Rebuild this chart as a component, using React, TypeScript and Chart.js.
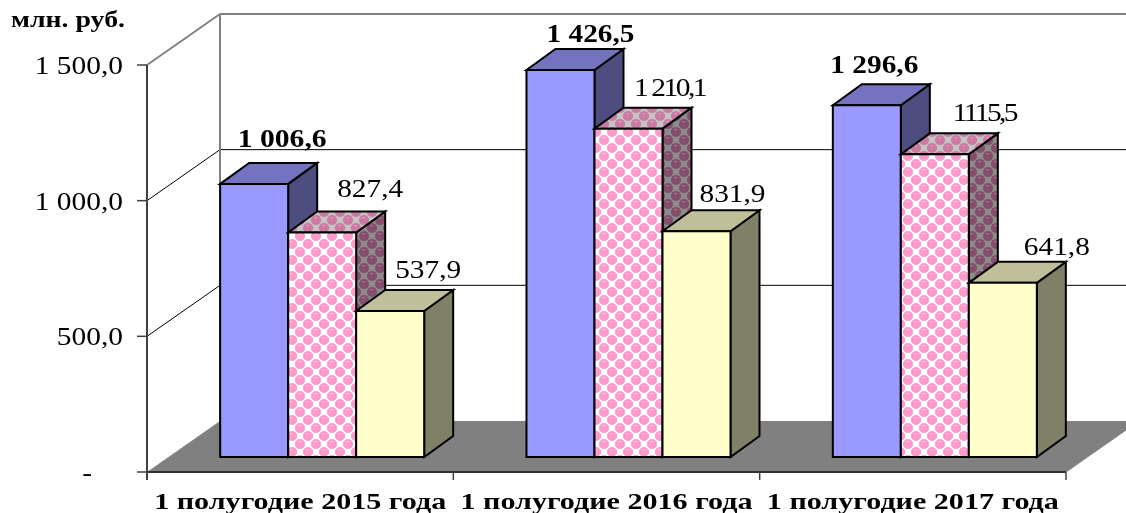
import React, { useEffect, useRef } from "react";
import { Chart, registerables } from "chart.js";

Chart.register(...registerables);

const categories = ["1 полугодие 2015 года", "1 полугодие 2016 года", "1 полугодие 2017 года"];
const seriesA = [1006.6, 1426.5, 1296.6];
const seriesB = [827.4, 1210.1, 1115.5];
const seriesC = [537.9, 831.9, 641.8];
const labelsA = ["1 006,6", "1 426,5", "1 296,6"];
const labelsB = ["827,4", "1 210,1", "1115,5"];
const labelsC = ["537,9", "831,9", "641,8"];
const yTickLabels: Record<number, string> = { 0: "-", 500: "500,0", 1000: "1 000,0", 1500: "1 500,0" };
const unitLabel = "млн. руб.";

const FONT = '"Liberation Serif"';
const WALL = { dx: 73, dy: -51 };
const BAR_SHIFT = { dx: 22, dy: -15 };
const DEPTH = { dx: 29, dy: -21 };
const TILE = 16;

function makePattern(ctx: CanvasRenderingContext2D, gap: string, ball: string, hi: string) {
  const c = document.createElement("canvas");
  c.width = TILE;
  c.height = TILE;
  const g = c.getContext("2d")!;
  g.fillStyle = gap;
  g.fillRect(0, 0, TILE, TILE);
  const q = TILE / 4;
  const points = [[q, q], [3 * q, 3 * q], [-q, 3 * q], [5 * q, q], [3 * q, -q], [q, 5 * q]];
  for (const [x, y] of points) {
    g.fillStyle = ball;
    g.beginPath();
    g.arc(x, y, 5.1, 0, Math.PI * 2);
    g.fill();
  }
  for (const [x, y] of points) {
    g.fillStyle = hi;
    g.fillRect(x - 2, y - 3, 3, 1.3);
  }
  return ctx.createPattern(c, "repeat")!;
}

function stretched(
  ctx: CanvasRenderingContext2D,
  text: string,
  x: number,
  y: number,
  font: string,
  opts: { width?: number; sx?: number; align?: CanvasTextAlign; tight?: boolean }
) {
  ctx.save();
  ctx.font = font;
  ctx.fillStyle = "#000";
  ctx.textBaseline = "middle";
  ctx.textAlign = opts.align ?? "center";
  let sx = opts.sx ?? 1;
  if (opts.width) {
    const natural = ctx.measureText(text).width;
    if (opts.tight) {
      (ctx as any).letterSpacing = `${(opts.width / sx - natural) / text.length}px`;
    } else {
      sx = opts.width / natural;
    }
  }
  ctx.translate(x, y);
  ctx.scale(sx, 1);
  ctx.fillText(text, 0, 0);
  ctx.restore();
}

function line(ctx: CanvasRenderingContext2D, x1: number, y1: number, x2: number, y2: number, color: string, w: number) {
  ctx.strokeStyle = color;
  ctx.lineWidth = w;
  ctx.beginPath();
  ctx.moveTo(x1, y1);
  ctx.lineTo(x2, y2);
  ctx.stroke();
}

function poly(ctx: CanvasRenderingContext2D, pts: number[][], fill: string | CanvasPattern) {
  ctx.fillStyle = fill;
  ctx.strokeStyle = "#000";
  ctx.lineWidth = 2;
  ctx.lineJoin = "miter";
  ctx.beginPath();
  pts.forEach(([x, y], i) => (i ? ctx.lineTo(x, y) : ctx.moveTo(x, y)));
  ctx.closePath();
  ctx.fill();
  ctx.stroke();
}

const scene3d = {
  id: "scene3d",
  beforeDatasetsDraw(chart: any) {
    const { ctx, chartArea: a, scales } = chart;
    const y = scales.y;
    const x = scales.x;
    const left = a.left;
    const right = a.right;
    const bottom = a.bottom;
    ctx.save();
    // floor
    ctx.fillStyle = "#808080";
    ctx.beginPath();
    ctx.moveTo(left, bottom);
    ctx.lineTo(right, bottom);
    ctx.lineTo(right + WALL.dx, bottom + WALL.dy);
    ctx.lineTo(left + WALL.dx, bottom + WALL.dy);
    ctx.closePath();
    ctx.fill();
    // back wall grid
    y.ticks.forEach((t: any) => {
      const py = y.getPixelForValue(t.value);
      const top = t.value === y.max;
      if (t.value !== 0) {
        const col = top ? "#808080" : "#000";
        const w = top ? 2 : 1;
        line(ctx, left, py, left + WALL.dx, py + WALL.dy, col, w);
        line(ctx, left + WALL.dx, py + WALL.dy, right + WALL.dx, py + WALL.dy, col, w);
      }
      line(ctx, left - 10, py, left, py, "#404040", 1.5);
    });
    line(ctx, left + WALL.dx, a.top + WALL.dy, left + WALL.dx, bottom + WALL.dy, "#808080", 2);
    // front axes
    line(ctx, left, a.top, left, bottom + 8, "#404040", 2);
    line(ctx, left, bottom, right, bottom, "#303030", 2);
    const step = (right - left) / categories.length;
    for (let i = 0; i <= categories.length; i++) {
      const px = left + i * step;
      line(ctx, px, bottom, px, bottom + 8, "#404040", 1.5);
    }
    line(ctx, right, bottom, right + WALL.dx, bottom + WALL.dy, "#808080", 1);
    // axis labels
    y.ticks.forEach((t: any) => {
      const py = y.getPixelForValue(t.value);
      stretched(ctx, yTickLabels[t.value] ?? "", t.value === 0 ? 92 : 123, py + 2.5, `24.5px ${FONT}`, { sx: 1.2, align: "right" });
    });
    categories.forEach((c, i) => {
      stretched(ctx, c, x.getPixelForValue(i), 503, `bold 24px ${FONT}`, { width: 292 });
    });
    stretched(ctx, unitLabel, 68, 21.5, `bold 23px ${FONT}`, { width: 114 });
    ctx.restore();
  },
  afterDatasetsDraw(chart: any) {
    const { ctx } = chart;
    ctx.save();
    const pink = makePattern(ctx, "#ffffff", "#ff99cc", "#ffc4e2");
    const pinkTop = makePattern(ctx, "#c4c4c4", "#cc7aa3", "#e09cc0");
    const pinkSide = makePattern(ctx, "#8c8c8c", "#854f6c", "#a87090");
    const styles: (string | CanvasPattern)[][] = [
      ["#9999ff", "#7373bf", "#4d4d80"],
      [pink, pinkTop, pinkSide],
      ["#ffffcc", "#bfbf99", "#808066"],
    ];
    const labelSets = [labelsA, labelsB, labelsC];
    const texts: (() => void)[] = [];
    const offsets = [
      [[28, -43], [30, -34], [7.5, -39]],
      [[48, -42], [41, -39], [49.5, -40]],
      [[38, -40], [36, -36], [54, -34]],
    ];
    const widths = [[89, 88, 88], [66, 71, 63], [66, 66, 66]];
    const tight = [[false, false, false], [false, true, true], [false, false, false]];
    categories.forEach((_, c) => {
      [0, 1, 2].forEach((s) => {
        const el = chart.getDatasetMeta(s).data[c];
        const half = el.width / 2;
        const l = el.x - half + BAR_SHIFT.dx;
        const r = el.x + half + BAR_SHIFT.dx;
        const t = el.y + BAR_SHIFT.dy;
        const b = el.base + BAR_SHIFT.dy;
        const [front, top, side] = styles[s];
        poly(ctx, [[r, t], [r + DEPTH.dx, t + DEPTH.dy], [r + DEPTH.dx, b + DEPTH.dy], [r, b]], side);
        poly(ctx, [[l, t], [l + DEPTH.dx, t + DEPTH.dy], [r + DEPTH.dx, t + DEPTH.dy], [r, t]], top);
        poly(ctx, [[l, t], [r, t], [r, b], [l, b]], front);
        const [ox, oy] = offsets[s][c];
        const cx = (l + r) / 2 + ox;
        const cy = t + oy;
        const isTight = tight[s][c];
        texts.push(() =>
          stretched(ctx, labelSets[s][c], cx, cy, `${s === 0 ? "bold " : ""}25px ${FONT}`, {
            width: widths[s][c],
            sx: isTight ? 1.18 : undefined,
            tight: isTight,
          })
        );
      });
    });
    texts.forEach((f) => f());
    ctx.restore();
  },
};

export default function App() {
  const ref = useRef<HTMLCanvasElement>(null);
  useEffect(() => {
    const chart = new Chart(ref.current!, {
      type: "bar",
      data: {
        labels: categories,
        datasets: [
          { label: "A", data: seriesA, backgroundColor: "transparent", borderWidth: 0 },
          { label: "B", data: seriesB, backgroundColor: "transparent", borderWidth: 0 },
          { label: "C", data: seriesC, backgroundColor: "transparent", borderWidth: 0 },
        ],
      },
      options: {
        responsive: false,
        animation: false,
        layout: { padding: { left: 147, right: 60, top: 65, bottom: 41 } },
        datasets: { bar: { categoryPercentage: 0.666, barPercentage: 1 } },
        plugins: { legend: { display: false }, tooltip: { enabled: false }, title: { display: false } },
        scales: {
          x: {
            display: true,
            grid: { display: false },
            border: { display: false },
            ticks: { display: false },
            afterFit: (s: any) => { s.height = 0; },
          },
          y: {
            min: 0,
            max: 1500,
            grid: { display: false },
            border: { display: false },
            ticks: { display: false, stepSize: 500 },
            afterFit: (s: any) => { s.width = 0; },
          },
        },
      },
      plugins: [scene3d],
    } as any);
    return () => chart.destroy();
  }, []);
  return <canvas ref={ref} width={1126} height={513} style={{ position: "absolute", left: 0, top: 0, width: 1126, height: 513 }} />;
}
